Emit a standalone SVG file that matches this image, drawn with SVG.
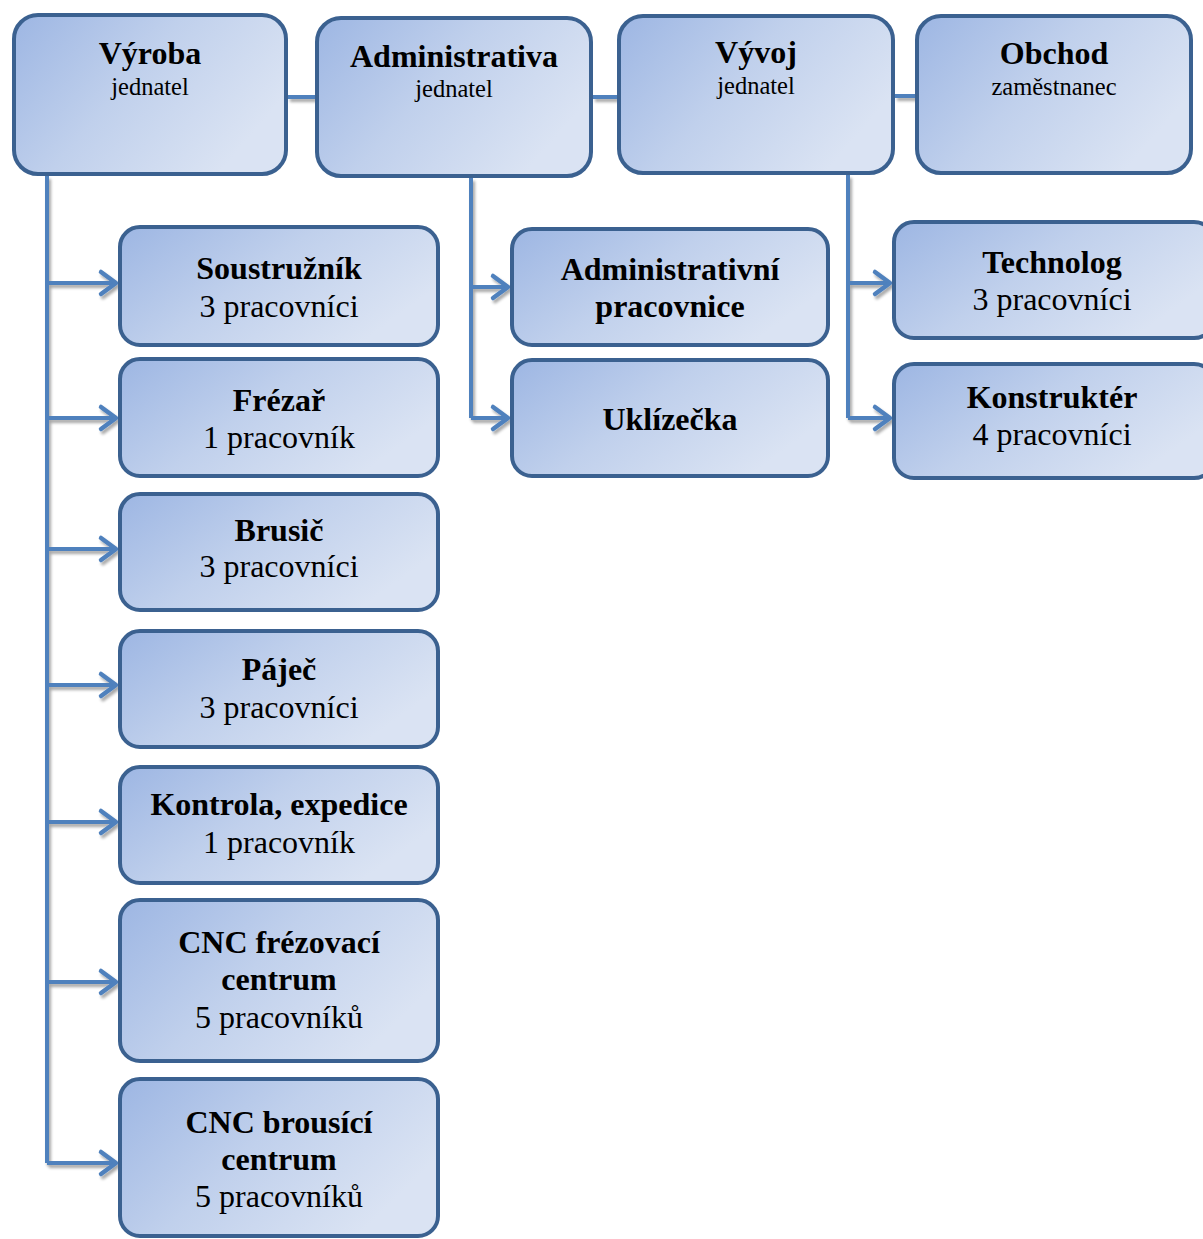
<svg xmlns="http://www.w3.org/2000/svg" width="1203" height="1239" viewBox="0 0 1203 1239">
<defs>
<linearGradient id="g" x1="0" y1="0" x2="1" y2="0.5">
<stop offset="0" stop-color="#9db6e3"/>
<stop offset="0.5" stop-color="#c0d0ec"/>
<stop offset="1" stop-color="#dae3f3"/>
</linearGradient>
<filter id="sh" x="-20%" y="-20%" width="140%" height="140%">
<feGaussianBlur in="SourceAlpha" stdDeviation="1.5"/>
<feOffset dx="2" dy="3" result="b"/>
<feComponentTransfer><feFuncA type="linear" slope="0.35"/></feComponentTransfer>
<feMerge><feMergeNode/><feMergeNode in="SourceGraphic"/></feMerge>
</filter>
<marker id="arr" markerUnits="userSpaceOnUse" markerWidth="30" markerHeight="30" viewBox="-20 -15 24 30" refX="0" refY="0" orient="auto">
<path d="M-16,-11 L-1,0 L-16,11" fill="none" stroke="#4f81bd" stroke-width="4.5" stroke-linecap="round" stroke-linejoin="round"/>
</marker>
</defs>
<style>
.box{fill:url(#g);stroke:#3b6190;stroke-width:4}
.top{rx:24px}
.ch{rx:20px}
.c{fill:none;stroke:#4f81bd;stroke-width:4}
text{font-family:"Liberation Serif","Times New Roman",serif;text-anchor:middle;fill:#000}
.b{font-weight:bold;font-size:32px}
.r{font-size:32px}
.s{font-size:24.5px}
</style>
<g id="connectors" filter="url(#sh)">
<path class="c" d="M288,97 H315"/>
<path class="c" d="M593,97 H617"/>
<path class="c" d="M895,96 H916"/>
<path class="c" d="M47,176 V1163"/>
<path class="c" d="M47,283 H117" marker-end="url(#arr)"/>
<path class="c" d="M47,418 H117" marker-end="url(#arr)"/>
<path class="c" d="M47,549 H117" marker-end="url(#arr)"/>
<path class="c" d="M47,685 H117" marker-end="url(#arr)"/>
<path class="c" d="M47,822 H117" marker-end="url(#arr)"/>
<path class="c" d="M47,982 H117" marker-end="url(#arr)"/>
<path class="c" d="M47,1163 H117" marker-end="url(#arr)"/>
<path class="c" d="M471,178 V418"/>
<path class="c" d="M471,287 H509" marker-end="url(#arr)"/>
<path class="c" d="M471,418 H509" marker-end="url(#arr)"/>
<path class="c" d="M848,175 V418"/>
<path class="c" d="M848,283 H891" marker-end="url(#arr)"/>
<path class="c" d="M848,418 H891" marker-end="url(#arr)"/>
</g>
<g id="vyroba"><rect class="box top" x="14" y="15" width="272" height="159"/><text class="b" x="150" y="64">Výroba</text><text class="s" x="150" y="95">jednatel</text></g>
<g id="administrativa"><rect class="box top" x="317" y="18" width="274" height="158"/><text class="b" x="454" y="67">Administrativa</text><text class="s" x="454" y="97">jednatel</text></g>
<g id="vyvoj"><rect class="box top" x="619" y="16" width="274" height="157"/><text class="b" x="756" y="63">Vývoj</text><text class="s" x="756" y="94">jednatel</text></g>
<g id="obchod"><rect class="box top" x="917" y="16" width="274" height="157"/><text class="b" x="1054" y="64">Obchod</text><text class="s" x="1054" y="95">zaměstnanec</text></g>
<g id="soustruznik"><rect class="box ch" x="120" y="227" width="318" height="118"/><text class="b" x="279" y="279">Soustružník</text><text class="r" x="279" y="317">3 pracovníci</text></g>
<g id="frezar"><rect class="box ch" x="120" y="359" width="318" height="117"/><text class="b" x="279" y="411">Frézař</text><text class="r" x="279" y="448">1 pracovník</text></g>
<g id="brusic"><rect class="box ch" x="120" y="494" width="318" height="116"/><text class="b" x="279" y="541">Brusič</text><text class="r" x="279" y="577">3 pracovníci</text></g>
<g id="pajec"><rect class="box ch" x="120" y="631" width="318" height="116"/><text class="b" x="279" y="680">Páječ</text><text class="r" x="279" y="718">3 pracovníci</text></g>
<g id="kontrola"><rect class="box ch" x="120" y="767" width="318" height="116"/><text class="b" x="279" y="815">Kontrola, expedice</text><text class="r" x="279" y="853">1 pracovník</text></g>
<g id="cnc-frezovaci"><rect class="box ch" x="120" y="900" width="318" height="161"/><text class="b" x="279" y="953">CNC frézovací</text><text class="b" x="279" y="990">centrum</text><text class="r" x="279" y="1028">5 pracovníků</text></g>
<g id="cnc-brousici"><rect class="box ch" x="120" y="1079" width="318" height="157"/><text class="b" x="279" y="1133">CNC brousící</text><text class="b" x="279" y="1170">centrum</text><text class="r" x="279" y="1207">5 pracovníků</text></g>
<g id="admin-pracovnice"><rect class="box ch" x="512" y="229" width="316" height="116"/><text class="b" x="670" y="280">Administrativní</text><text class="b" x="670" y="317">pracovnice</text></g>
<g id="uklizecka"><rect class="box ch" x="512" y="360" width="316" height="116"/><text class="b" x="670" y="430">Uklízečka</text></g>
<g id="technolog"><rect class="box ch" x="894" y="222" width="320" height="116"/><text class="b" x="1052" y="273">Technolog</text><text class="r" x="1052" y="310">3 pracovníci</text></g>
<g id="konstrukter"><rect class="box ch" x="894" y="364" width="320" height="114"/><text class="b" x="1052" y="408">Konstruktér</text><text class="r" x="1052" y="445">4 pracovníci</text></g>
</svg>
